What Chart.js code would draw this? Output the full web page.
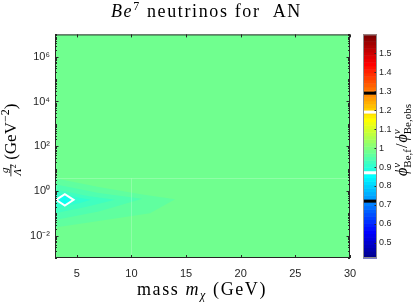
<!DOCTYPE html>
<html>
<head>
<meta charset="utf-8">
<script src="https://cdn.jsdelivr.net/npm/chart.js@4.4.1/dist/chart.umd.min.js"></script>
<style>
  html, body { margin: 0; padding: 0; background: #fff; }
  #wrap { position: relative; width: 413px; height: 302px; }
</style>
</head>
<body>
<div id="wrap"><canvas id="myChart" width="413" height="302"></canvas></div>
<script>
// dados
const massTicks = [5, 10, 15, 20, 25, 30];
const couplingTicks = [1e-2, 1, 1e2, 1e4, 1e6];
const ratioTicks = [0.5, 0.6, 0.7, 0.8, 0.9, 1.0, 1.1, 1.2, 1.3, 1.4, 1.5];
const contourLevels = [0.72, 0.87, 1.19, 1.29];

const backgroundRatio = 0.985;
const bandRatios = [0.965, 0.945, 0.925, 0.9];
// [massa, acoplamento] de cada faixa do contourf
const bandShapes = [
    [[3, 3.7], [7, 1.5], [11, 0.7], [14, 0.42], [11.7, 0.1], [7, 0.045], [3, 0.023]],
    [[3, 2.0], [7, 0.8], [11, 0.45], [7, 0.12], [3, 0.05]],
    [[3, 1.2], [6, 0.6], [8.5, 0.4], [6, 0.2], [3, 0.1]],
    [[3, 0.9], [5.2, 0.5], [6.3, 0.4], [5.2, 0.28], [3, 0.17]]
];
const islandRatio = 0.87;
const islandShape = [[3.1, 0.4], [3.9, 0.72], [4.7, 0.4], [3.9, 0.22]];

const cMin = 0.42, cMax = 1.6;
const axisColor = '#262626';
const serif = '"Liberation Serif", serif';
const sans = '"Liberation Sans", Arial, sans-serif';

// jet(64) do MATLAB
function jetRow(i) {
    const u = k => (k < 1 || k > 47) ? 0 : (k <= 16 ? k / 16 : (k <= 31 ? 1 : (48 - k) / 16));
    return [u(i - 24), u(i - 8), u(i + 8)].map(c => Math.round(c * 255));
}
function jet(v) {
    const t = (v - cMin) / (cMax - cMin);
    const i = Math.max(1, Math.min(64, Math.floor(t * 64) + 1));
    const [r, g, b] = jetRow(i);
    return `rgb(${r},${g},${b})`;
}

const supMap = { '-': '⁻', '0': '⁰', '1': '¹', '2': '²', '3': '³', '4': '⁴', '5': '⁵', '6': '⁶', '7': '⁷', '8': '⁸', '9': '⁹' };
function formatarLog(v) {
    const e = Math.round(Math.log10(v));
    return '10' + String(e).split('').map(ch => supMap[ch]).join('');
}

// texto com sub/sobrescritos
function medirRuns(ctx, runs) {
    let w = 0;
    runs.forEach(r => {
        if (r.stack) {
            r.w = Math.max(...r.stack.map(s => { ctx.font = s.font; return ctx.measureText(s.t).width; }));
            r.n = 1;
        } else {
            ctx.font = r.font;
            r.w = ctx.measureText(r.t).width;
            r.n = r.t.length;
        }
        w += r.w + (r.gap || 0);
    });
    return w;
}

function desenharRuns(ctx, runs, x, y, esp) {
    esp = esp || 0;
    let cx = x;
    runs.forEach(r => {
        if (r.stack) {
            r.stack.forEach(s => { ctx.font = s.font; ctx.fillText(s.t, cx, y + s.dy); });
        } else {
            ctx.font = r.font;
            ctx.fillText(r.t, cx, y + (r.dy || 0));
        }
        cx += r.w + (r.gap || 0) + esp * r.n;
    });
}

// centraliza e espaça as letras até a largura da figura
function desenharAjustado(ctx, runs, cx, y, largura) {
    const temEsp = 'letterSpacing' in ctx;
    if (temEsp) ctx.letterSpacing = '0px';
    const w = medirRuns(ctx, runs);
    const n = runs.reduce((s, r) => s + r.n, 0);
    if (temEsp) {
        const esp = (largura - w) / n;
        ctx.letterSpacing = esp.toFixed(2) + 'px';
        desenharRuns(ctx, runs, cx - largura / 2, y, esp);
        ctx.letterSpacing = '0px';
    } else {
        ctx.save();
        ctx.translate(cx - largura / 2, y);
        ctx.scale(largura / w, 1);
        desenharRuns(ctx, runs, 0, 0);
        ctx.restore();
    }
}

const titleRuns = [
    { t: 'Be', font: `italic 18px ${serif}` },
    { t: '7', font: `12px ${serif}`, dy: -7 },
    { t: ' neutrinos for  AN', font: `18px ${serif}` }
];
const xLabelRuns = [
    { t: 'mass ', font: `18px ${serif}` },
    { t: 'm', font: `italic 18px ${serif}` },
    { t: 'χ', font: `italic 12px ${serif}`, dy: 4 },
    { t: ' (GeV)', font: `18px ${serif}` }
];
const yLabelRuns = [
    { t: ' (GeV', font: `17px ${serif}` },
    { t: '−2', font: `12px ${serif}`, dy: -7 },
    { t: ')', font: `17px ${serif}` }
];
const cbLabelRuns = [
    { t: 'ϕ', font: `italic 16px ${serif}` },
    { stack: [{ t: 'ν', font: `italic 11px ${serif}`, dy: -7 }, { t: 'Be,f', font: `11px ${serif}`, dy: 4 }], gap: 1 },
    { t: '/', font: `16px ${serif}`, gap: 1 },
    { t: 'ϕ', font: `italic 16px ${serif}` },
    { stack: [{ t: 'ν', font: `italic 11px ${serif}`, dy: -7 }, { t: 'Be,obs', font: `11px ${serif}`, dy: 4 }] }
];

const contourPlugin = {
    id: 'contour',
    beforeDatasetsDraw(chart) {
        const { ctx, chartArea: a, scales: { x, y } } = chart;
        ctx.save();
        ctx.beginPath();
        ctx.rect(a.left, a.top, a.right - a.left, a.bottom - a.top);
        ctx.clip();
        ctx.fillStyle = jet(backgroundRatio);
        ctx.fillRect(a.left, a.top, a.right - a.left, a.bottom - a.top);
        const poligono = pts => {
            ctx.beginPath();
            pts.forEach(([m, g], i) => {
                const px = x.getPixelForValue(m), py = y.getPixelForValue(g);
                i ? ctx.lineTo(px, py) : ctx.moveTo(px, py);
            });
            ctx.closePath();
        };
        bandShapes.forEach((pts, i) => {
            poligono(pts);
            ctx.fillStyle = jet(bandRatios[i]);
            ctx.fill();
        });
        poligono(islandShape);
        ctx.fillStyle = jet(islandRatio);
        ctx.fill();
        ctx.strokeStyle = '#fff';
        ctx.lineWidth = 2;
        ctx.stroke();
        // emendas claras dos patches
        ctx.strokeStyle = 'rgba(255,255,255,0.22)';
        ctx.lineWidth = 1;
        ctx.beginPath();
        const ys = Math.round(y.getPixelForValue(3.9)) + 0.5;
        ctx.moveTo(a.left, ys); ctx.lineTo(a.right, ys);
        const xs = Math.round(x.getPixelForValue(10)) + 0.5;
        ctx.moveTo(xs, ys); ctx.lineTo(xs, a.bottom);
        ctx.stroke();
        ctx.restore();
    },
    afterDraw(chart) {
        const { ctx, chartArea: a, scales: { x, y, cb } } = chart;
        ctx.save();
        // ticks para dentro
        ctx.strokeStyle = axisColor;
        ctx.lineWidth = 1;
        ctx.beginPath();
        massTicks.forEach(m => {
            const px = Math.round(x.getPixelForValue(m)) + 0.5;
            ctx.moveTo(px, a.bottom); ctx.lineTo(px, a.bottom - 3);
            ctx.moveTo(px, a.top); ctx.lineTo(px, a.top + 3);
        });
        for (let n = -3; n <= 7; n++) {
            for (let k = 1; k <= 9; k++) {
                const v = k * Math.pow(10, n);
                if (v < y.min || v > y.max) continue;
                const py = Math.round(y.getPixelForValue(v)) + 0.5;
                const len = (k === 1 && n % 2 === 0) ? 3.5 : 2;
                ctx.moveTo(a.left, py); ctx.lineTo(a.left + len, py);
                ctx.moveTo(a.right, py); ctx.lineTo(a.right - len, py);
            }
        }
        ctx.stroke();
        ctx.strokeRect(a.left + 0.5, a.top + 0.5, a.right - a.left - 1, a.bottom - a.top - 1);

        // barra de cores (64 faixas)
        const bl = 363, br = 377;
        const top = cb.getPixelForValue(cMax), bot = cb.getPixelForValue(cMin);
        for (let i = 1; i <= 64; i++) {
            const v0 = cMin + (i - 1) / 64 * (cMax - cMin), v1 = cMin + i / 64 * (cMax - cMin);
            const p0 = cb.getPixelForValue(v0), p1 = cb.getPixelForValue(v1);
            const [r, g, b] = jetRow(i);
            ctx.fillStyle = `rgb(${r},${g},${b})`;
            ctx.fillRect(bl, p1, br - bl, p0 - p1 + 0.5);
        }
        contourLevels.forEach((lv, i) => {
            const py = cb.getPixelForValue(lv);
            ctx.fillStyle = (i === 0 || i === 3) ? '#000' : '#fff';
            ctx.fillRect(bl, py - 1.5, br - bl, 3);
        });
        ctx.beginPath();
        ctx.strokeStyle = axisColor;
        ratioTicks.forEach(r => {
            const py = Math.round(cb.getPixelForValue(r)) + 0.5;
            ctx.moveTo(br, py); ctx.lineTo(br - 2.5, py);
        });
        ctx.stroke();
        ctx.strokeStyle = '#8c8c8c';
        ctx.strokeRect(bl + 0.5, top + 0.5, br - bl - 1, bot - top - 1);

        // títulos
        ctx.fillStyle = '#000';
        ctx.textBaseline = 'alphabetic';
        desenharAjustado(ctx, titleRuns, 206.5, 17, 191);
        desenharAjustado(ctx, xLabelRuns, 202, 295, 130);

        // rótulo do eixo y (girado)
        ctx.save();
        ctx.translate(16, 140);
        ctx.rotate(-Math.PI / 2);
        ctx.font = `11px ${serif}`;
        const fw = Math.max(ctx.measureText('g').width, ctx.measureText('Λ²').width) + 1;
        let w = medirRuns(ctx, yLabelRuns) + fw;
        const x0 = -w / 2;
        ctx.textAlign = 'center';
        ctx.font = `italic 11px ${serif}`;
        ctx.fillText('g', x0 + fw / 2, -8);
        ctx.fillText('Λ', x0 + fw / 2 - 2, 5);
        ctx.font = `8px ${serif}`;
        ctx.fillText('2', x0 + fw / 2 + 4, 0);
        ctx.fillRect(x0, -5.5, fw, 0.8);
        ctx.textAlign = 'left';
        desenharRuns(ctx, yLabelRuns, x0 + fw, 0);
        ctx.restore();

        // rótulo da barra de cores
        ctx.save();
        ctx.translate(407, 140);
        ctx.rotate(-Math.PI / 2);
        w = medirRuns(ctx, cbLabelRuns);
        desenharRuns(ctx, cbLabelRuns, -w / 2, 0);
        ctx.restore();
        ctx.restore();
    }
};

const ctx = document.getElementById('myChart').getContext('2d');

let chart = new Chart(ctx, {
    type: 'scatter',
    data: { datasets: [{ data: [], pointRadius: 0 }] },
    options: {
        responsive: false,
        animation: false,
        events: [],
        layout: { padding: { top: 24, right: 0, left: 0, bottom: 0 } },
        plugins: { legend: { display: false }, tooltip: { enabled: false } },
        scales: {
            x: {
                type: 'linear',
                min: 3,
                max: 30,
                afterBuildTicks: s => { s.ticks = massTicks.map(v => ({ value: v })); },
                afterFit: s => { s.height = 44; },
                grid: { display: false, drawTicks: false },
                border: { display: false },
                ticks: { color: axisColor, font: { family: sans, size: 11 }, padding: 9, maxRotation: 0 }
            },
            y: {
                type: 'logarithmic',
                min: 1e-3,
                max: 1e7,
                afterBuildTicks: s => { s.ticks = couplingTicks.map(v => ({ value: v })); },
                afterFit: s => { s.width = 55; },
                grid: { display: false, drawTicks: false },
                border: { display: false },
                ticks: { color: axisColor, font: { family: sans, size: 11 }, padding: 5, callback: formatarLog, autoSkip: false }
            },
            cb: {
                type: 'linear',
                position: 'right',
                min: cMin,
                max: cMax,
                afterBuildTicks: s => { s.ticks = ratioTicks.map(v => ({ value: v })); },
                afterFit: s => { s.width = 63; },
                grid: { display: false, drawTicks: false },
                border: { display: false },
                ticks: { color: axisColor, font: { family: sans, size: 9 }, padding: 29, autoSkip: false, callback: v => String(Math.round(v * 10) / 10) }
            }
        }
    },
    plugins: [contourPlugin]
});
</script>
</body>
</html>
